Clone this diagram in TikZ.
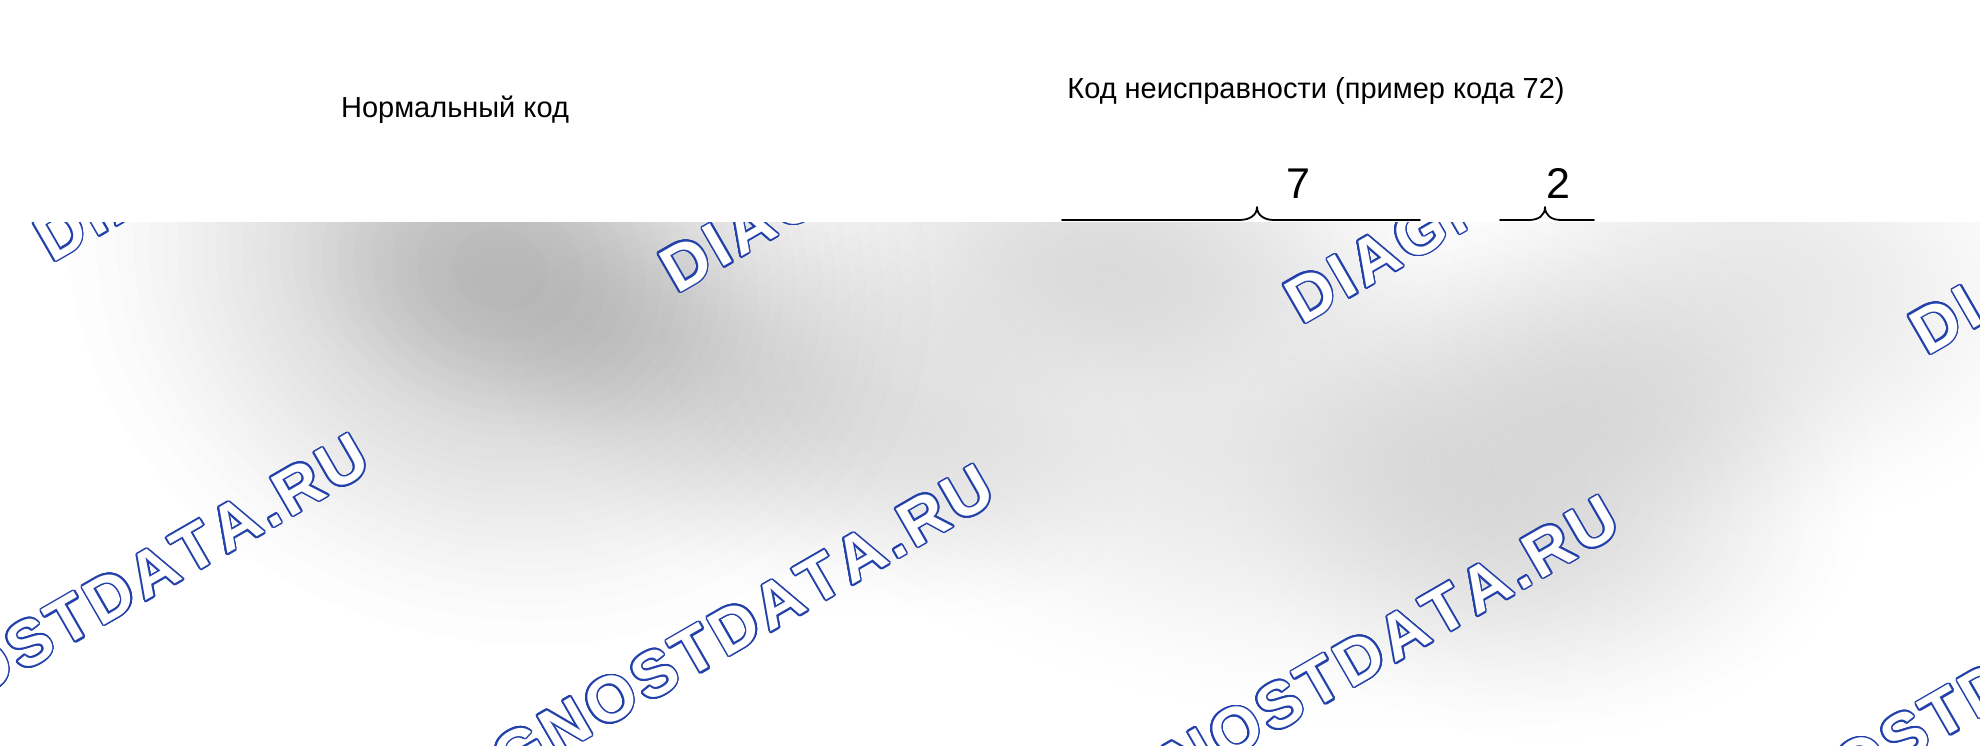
\documentclass[tikz,border=0pt]{standalone}
\usepackage{fontspec}
\setmainfont{Liberation Sans}
\newfontfamily\wmfont{Liberation Sans}
\usepackage{contour}
\contourlength{1.6pt}
\contournumber{24}
\definecolor{wmblue}{RGB}{35,65,170}
\newlength\wmtr
\setlength\wmtr{4.5pt}
\newcommand\wmstr{D\kern\wmtr I\kern\wmtr A\kern\wmtr G\kern\wmtr N\kern\wmtr O\kern\wmtr S\kern\wmtr T\kern\wmtr D\kern\wmtr A\kern\wmtr T\kern\wmtr A\kern\wmtr .\kern\wmtr R\kern\wmtr U}
% soft blurred blob: centre x, centre y, x radius, y radius, angle, peak darkness
\newcommand\softblob[6]{%
  \pgfmathsetmacro\blobop{#6/24}%
  \foreach \k in {1,...,24}{%
    \pgfmathsetmacro\blobsc{sqrt(1-sqrt((\k-0.5)/24))}%
    \fill[black, fill opacity=\blobop, rotate around={#5:(#1,#2)}] (#1,#2) ellipse ({\blobsc*#3} and {\blobsc*#4});
  }}
\tikzset{
  wm/.style={font=\wmfont\bfseries\fontsize{64}{70}\selectfont, text=white, rotate=30, anchor=base west, inner sep=0pt, outer sep=0pt},
  label/.style={font=\fontsize{29}{34}\selectfont, anchor=base, inner sep=0pt},
  digit/.style={font=\fontsize{43}{50}\selectfont, anchor=base, inner sep=0pt},
  bracestyle/.style={line width=1.8pt, line cap=round, line join=round}
}
\begin{document}
\begin{tikzpicture}[x=1pt,y=-1pt]
\useasboundingbox (0,0) rectangle (1980,745);
\fill[white] (0,0) rectangle (1980,745);
\begin{scope}
  \clip (0,222) rectangle (1980,745);
  \softblob{500}{270}{470}{400}{-15}{0.17}
  \softblob{520}{290}{270}{160}{-15}{0.08}
  \softblob{820}{420}{350}{200}{-15}{0.09}
  \softblob{1250}{430}{650}{300}{-12}{0.10}
  \softblob{1550}{480}{350}{280}{0}{0.05}
  \softblob{1750}{300}{350}{250}{0}{0.07}
  \softblob{1100}{240}{350}{180}{0}{0.06}
  \softblob{1300}{650}{600}{200}{0}{0.04}
  \node[wm] (w1) at (52,263) {\contour{wmblue}{\wmstr}};
  \node[wm] (w2) at (677,294) {\contour{wmblue}{\wmstr}};
  \node[wm] (w3) at (1302,325) {\contour{wmblue}{\wmstr}};
  \node[wm] (w4) at (1927,356) {\contour{wmblue}{\wmstr}};
  \node[wm] (w5) at (-223,814) {\contour{wmblue}{\wmstr}};
  \node[wm] (w6) at (402,845) {\contour{wmblue}{\wmstr}};
  \node[wm] (w7) at (1027,876) {\contour{wmblue}{\wmstr}};
  \node[wm] (w8) at (1652,907) {\contour{wmblue}{\wmstr}};
\end{scope}
\node[label] (normal) at (455,117) {Нормальный код};
\node[label] (fault) at (1316,98) {Код неисправности (пример кода 72)};
\node[digit] (d7) at (1298,198) {7};
\node[digit] (d2) at (1558,198) {2};
\coordinate (b1l) at (1062,220);
\coordinate (b1t) at (1257,207);
\coordinate (b1r) at (1420,220);
\coordinate (b2l) at (1500,220);
\coordinate (b2t) at (1545,207);
\coordinate (b2r) at (1594,220);
\draw[bracestyle] (b1l) -- (1239,220) .. controls (1250,220) and (1257,215) .. (b1t) .. controls (1257,215) and (1264,220) .. (1274,220) -- (b1r);
\draw[bracestyle] (b2l) -- (1529,220) .. controls (1539,220) and (1545,215) .. (b2t) .. controls (1545,215) and (1551,220) .. (1561,220) -- (b2r);
\end{tikzpicture}
\end{document}
